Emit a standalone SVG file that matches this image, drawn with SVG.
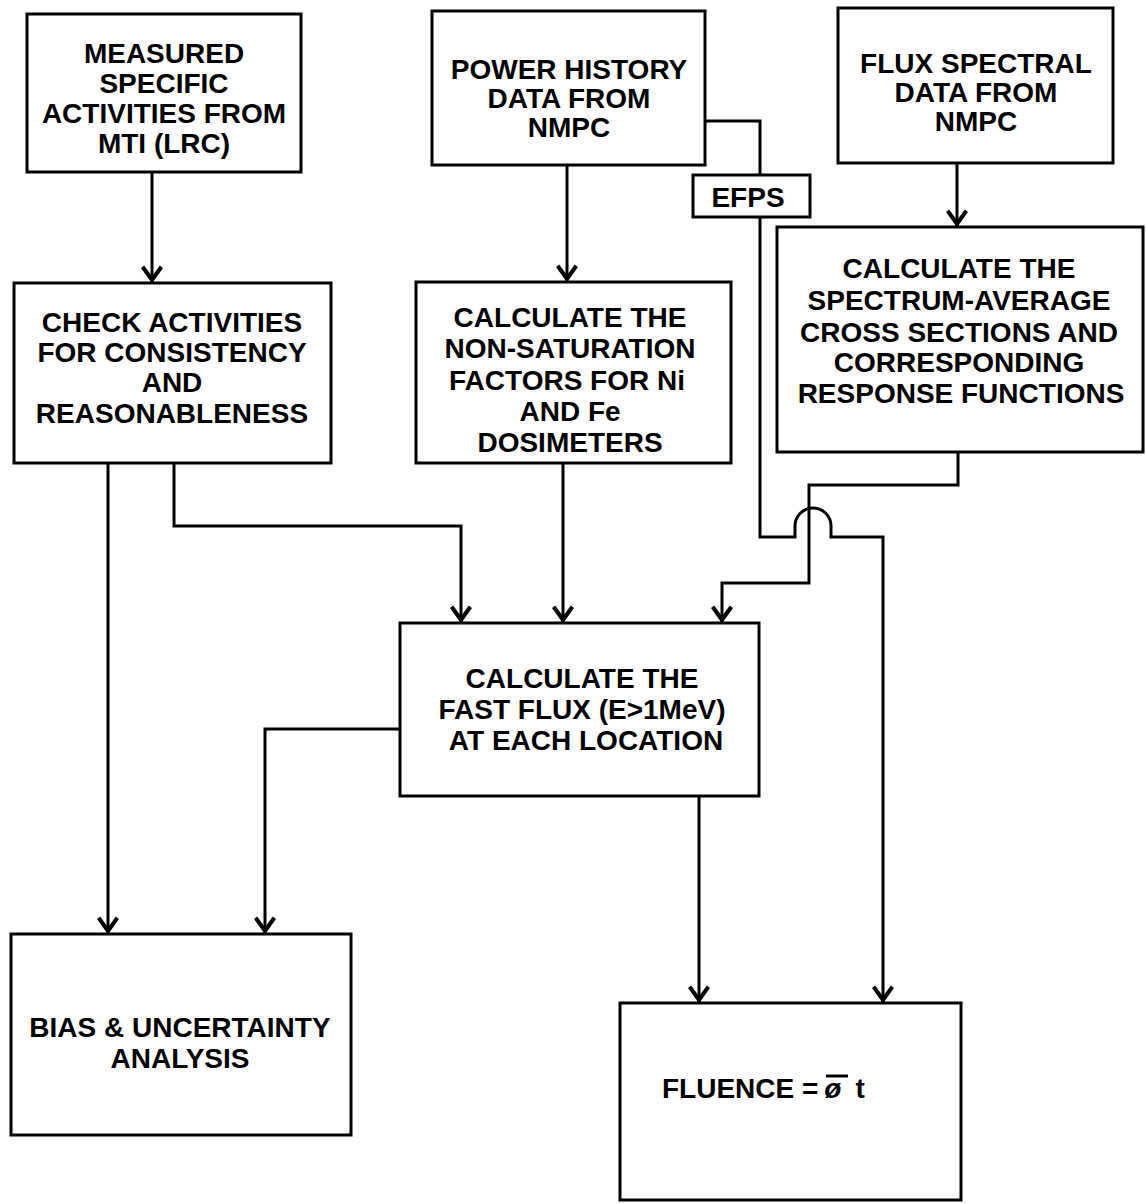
<svg xmlns="http://www.w3.org/2000/svg" width="1146" height="1204" viewBox="0 0 1146 1204">
<style>
.box{fill:#fff;stroke:#000;stroke-width:3}
.t{font-family:"Liberation Sans",Arial,sans-serif;font-weight:bold;font-size:28px;fill:#000;text-anchor:middle}
.c{fill:none;stroke:#000;stroke-width:3}
.a{marker-end:url(#arr)}
</style>
<defs>
<marker id="arr" viewBox="-19 -12 20 24" refX="0" refY="0" markerWidth="20" markerHeight="24" markerUnits="userSpaceOnUse" orient="auto">
<path d="M0.5,0 L-15,-11 L-17.4,-7.8 L-6.8,0 L-17.4,7.8 L-15,11 Z" fill="#000"/>
</marker>
</defs>
<rect width="1146" height="1204" fill="#fff"/>
<g id="connectors">
<path class="c a" d="M152,172 V283"/>
<path class="c a" d="M567,165 V282"/>
<path class="c a" d="M957,163 V227"/>
<path class="c" d="M705,121 H760 V175"/>
<path class="c a" d="M760,217 V537 H795 V526 A18 18 0 0 1 831 526 V537 H883 V1003"/>
<path class="c a" d="M958,452 V485 H809 V583 H722 V623"/>
<path class="c a" d="M174,463 V526 H461 V623"/>
<path class="c a" d="M108,463 V934"/>
<path class="c a" d="M563,463 V623"/>
<path class="c a" d="M400,729 H265 V934"/>
<path class="c a" d="M699,796 V1003"/>
</g>
<g id="measured">
<rect class="box" x="27" y="14" width="274" height="158"/>
<text class="t" x="164" y="63">MEASURED</text>
<text class="t" x="164" y="93">SPECIFIC</text>
<text class="t" x="164" y="123">ACTIVITIES FROM</text>
<text class="t" x="164" y="153">MTI (LRC)</text>
</g>
<g id="power">
<rect class="box" x="432" y="11" width="273" height="154"/>
<text class="t" x="569" y="79">POWER HISTORY</text>
<text class="t" x="569" y="108">DATA FROM</text>
<text class="t" x="569" y="137">NMPC</text>
</g>
<g id="fluxspec">
<rect class="box" x="838" y="8" width="275" height="155"/>
<text class="t" x="976" y="73">FLUX SPECTRAL</text>
<text class="t" x="976" y="102">DATA FROM</text>
<text class="t" x="976" y="131">NMPC</text>
</g>
<g id="efps">
<rect class="box" x="693" y="175" width="117" height="42"/>
<text class="t" x="748" y="207">EFPS</text>
</g>
<g id="spectrum">
<rect class="box" x="777" y="227" width="366" height="225"/>
<text class="t" x="959" y="278">CALCULATE THE</text>
<text class="t" x="959" y="310">SPECTRUM-AVERAGE</text>
<text class="t" x="959" y="342">CROSS SECTIONS AND</text>
<text class="t" x="959" y="372">CORRESPONDING</text>
<text class="t" x="961" y="403">RESPONSE FUNCTIONS</text>
</g>
<g id="check">
<rect class="box" x="14" y="283" width="317" height="180"/>
<text class="t" x="172" y="332">CHECK ACTIVITIES</text>
<text class="t" x="172" y="362">FOR CONSISTENCY</text>
<text class="t" x="172" y="392">AND</text>
<text class="t" x="172" y="423">REASONABLENESS</text>
</g>
<g id="nonsat">
<rect class="box" x="416" y="282" width="315" height="181"/>
<text class="t" x="570" y="327">CALCULATE THE</text>
<text class="t" x="570" y="358">NON-SATURATION</text>
<text class="t" x="567" y="390">FACTORS FOR Ni</text>
<text class="t" x="570" y="421">AND Fe</text>
<text class="t" x="570" y="452">DOSIMETERS</text>
</g>
<g id="fastflux">
<rect class="box" x="400" y="623" width="359" height="173"/>
<text class="t" x="582" y="688">CALCULATE THE</text>
<text class="t" x="582" y="719">FAST FLUX (E&gt;1MeV)</text>
<text class="t" x="586" y="750">AT EACH LOCATION</text>
</g>
<g id="bias">
<rect class="box" x="11" y="934" width="340" height="201"/>
<text class="t" x="180" y="1037">BIAS &amp; UNCERTAINTY</text>
<text class="t" x="180" y="1068">ANALYSIS</text>
</g>
<g id="fluence">
<rect class="box" x="620" y="1003" width="341" height="197"/>
<text class="t" x="662" y="1098" style="text-anchor:start">FLUENCE =<tspan dx="6" font-style="italic">ø</tspan><tspan dx="14">t</tspan></text>
<line x1="826" y1="1076" x2="848" y2="1076" stroke="#000" stroke-width="3"/>
</g>
</svg>
